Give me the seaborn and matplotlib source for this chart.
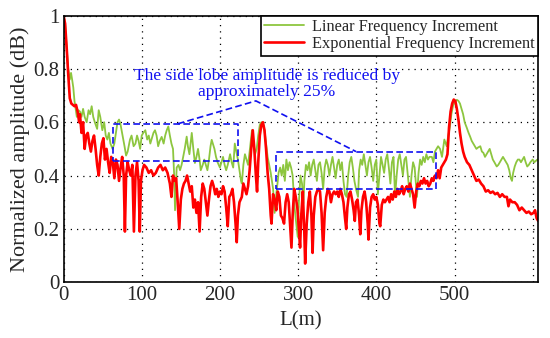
import matplotlib
matplotlib.use('Agg')
import matplotlib.pyplot as plt
import matplotlib.ticker as mticker
import seaborn as sns
import pandas as pd

sns.set_style("white")
plt.rcParams['font.family'] = ['Liberation Serif', 'DejaVu Serif']

# Exponential frequency increment (red)
exp_x = [0, 2, 4, 6, 8, 10, 12, 14, 16, 18, 20, 21, 23, 25, 27, 29, 31, 33, 35, 37, 39, 41, 43, 45, 47, 49,
         51, 53, 55, 57, 59, 61, 63, 65, 67, 69, 71, 73, 75, 77, 78.5, 80, 82, 84, 86, 88, 90, 92, 94, 96,
         97.5, 99, 101, 103, 106, 109, 112, 115, 118, 121, 124, 127, 130, 133, 136, 138, 140, 142, 144, 146,
         148, 150, 152, 154, 156, 158, 160, 162, 164, 166, 168, 170, 172, 174, 176, 178, 180, 182, 184, 186,
         188, 190, 192, 194, 196, 198, 200, 202, 204, 206, 208, 210, 212, 214, 216, 218, 220, 221.5, 223, 225,
         228, 230, 232, 234, 236, 238, 240, 242, 244, 246, 247.5, 249, 251, 253, 255, 257, 259, 261, 263, 265,
         266, 268, 270, 272, 274, 276, 278, 280, 282, 284, 286, 288, 290, 291.5, 293, 295, 297, 299, 301, 302.5,
         304, 306, 308, 309, 311, 313, 315, 317, 318.5, 320, 322, 324, 326, 328, 330, 332, 334, 336, 338, 340,
         342, 344, 346, 348, 350, 352, 354, 356, 358, 360, 361.5, 363, 365, 367, 369, 371, 372.5, 374, 376, 378,
         379.5, 381, 383, 385, 387, 389, 390, 392, 394, 396, 398, 400, 402, 404, 405, 407, 409, 411, 413, 415,
         417, 419, 421, 423, 425, 427, 429, 431, 433, 435, 437, 439, 441, 443, 445, 447, 449, 451, 453, 455,
         457, 459, 461, 463, 465, 467, 469, 471, 473, 475, 477, 479, 481, 483, 485, 487, 489, 491, 493, 495,
         497, 499, 501, 503, 505, 507, 509, 511, 513, 516, 519, 522, 525, 528, 531, 534, 537, 540, 543, 546,
         549, 552, 555, 558, 561, 564, 567, 569, 571, 574, 577, 580, 583, 586, 589, 592, 595, 598, 601, 603,
         605, 607]
exp_y = [1.00, 0.97, 0.88, 0.78, 0.69, 0.67, 0.665, 0.66, 0.665, 0.64, 0.60, 0.63, 0.56, 0.60, 0.50, 0.55, 0.56,
         0.52, 0.49, 0.53, 0.55, 0.50, 0.44, 0.40, 0.47, 0.52, 0.54, 0.46, 0.50, 0.45, 0.41, 0.47, 0.45, 0.39,
         0.46, 0.44, 0.38, 0.43, 0.47, 0.40, 0.19, 0.40, 0.45, 0.42, 0.40, 0.44, 0.19, 0.40, 0.45, 0.38, 0.19,
         0.38, 0.42, 0.44, 0.43, 0.41, 0.42, 0.40, 0.41, 0.43, 0.44, 0.42, 0.43, 0.41, 0.37, 0.32, 0.40, 0.38,
         0.39, 0.30, 0.20, 0.31, 0.35, 0.37, 0.38, 0.40, 0.37, 0.34, 0.36, 0.28, 0.31, 0.26, 0.30, 0.19, 0.32,
         0.37, 0.35, 0.30, 0.25, 0.31, 0.36, 0.38, 0.36, 0.33, 0.35, 0.32, 0.34, 0.33, 0.36, 0.34, 0.28, 0.21,
         0.32, 0.33, 0.35, 0.30, 0.22, 0.15, 0.25, 0.30, 0.32, 0.37, 0.35, 0.33, 0.36, 0.42, 0.50, 0.57, 0.50,
         0.40, 0.34, 0.45, 0.55, 0.59, 0.60, 0.57, 0.50, 0.41, 0.35, 0.25, 0.22, 0.33, 0.31, 0.27, 0.34, 0.32,
         0.25, 0.24, 0.22, 0.30, 0.33, 0.30, 0.20, 0.13, 0.25, 0.35, 0.32, 0.28, 0.20, 0.13, 0.25, 0.34, 0.18,
         0.07, 0.22, 0.30, 0.34, 0.25, 0.11, 0.25, 0.32, 0.34, 0.35, 0.34, 0.26, 0.12, 0.26, 0.32, 0.35, 0.34,
         0.30, 0.33, 0.34, 0.33, 0.34, 0.32, 0.35, 0.33, 0.30, 0.24, 0.20, 0.28, 0.33, 0.34, 0.31, 0.27, 0.23,
         0.30, 0.31, 0.25, 0.18, 0.27, 0.32, 0.34, 0.30, 0.22, 0.16, 0.28, 0.32, 0.33, 0.31, 0.32, 0.29, 0.22,
         0.21, 0.29, 0.31, 0.30, 0.31, 0.32, 0.30, 0.33, 0.31, 0.34, 0.32, 0.35, 0.33, 0.34, 0.36, 0.33, 0.35,
         0.36, 0.34, 0.37, 0.35, 0.33, 0.28, 0.34, 0.37, 0.36, 0.38, 0.37, 0.39, 0.37, 0.38, 0.36, 0.37, 0.39,
         0.38, 0.40, 0.39, 0.42, 0.39, 0.43, 0.44, 0.45, 0.46, 0.48, 0.58, 0.64, 0.67, 0.685, 0.68, 0.65, 0.61,
         0.56, 0.52, 0.49, 0.47, 0.45, 0.44, 0.42, 0.40, 0.38, 0.385, 0.37, 0.36, 0.34, 0.345, 0.335, 0.34, 0.33,
         0.335, 0.32, 0.33, 0.32, 0.32, 0.285, 0.31, 0.30, 0.30, 0.29, 0.27, 0.28, 0.27, 0.26, 0.265, 0.255,
         0.26, 0.27, 0.24, 0.23]

# Linear frequency increment (green)
lin_x = [0, 2, 4, 6, 8, 9.6, 11, 12.5, 14, 15, 17, 19, 21, 23, 25, 27, 29.6, 32, 34, 36, 38, 40, 43, 45, 47,
         49.6, 52, 54, 56, 58, 60, 62.7, 65, 67, 69, 71, 73, 75.5, 78, 80, 82, 85, 87, 89.6, 92, 94, 96, 98,
         100, 102, 104.6, 107, 109, 111, 113, 115, 117, 119, 121, 123, 125.5, 128, 130, 132, 134, 136, 138, 140,
         141.5, 142.6, 144, 144.7, 147, 149, 151, 153, 155, 157.5, 159, 161, 162.5, 164, 166, 168, 170, 172,
         174, 175.5, 178, 180, 182, 184, 186, 188, 189.5, 191, 193, 195, 197, 200, 202, 204, 206, 208, 210,
         213, 215, 217, 219, 221, 223, 225, 227, 228, 230, 232, 234, 236, 238, 241, 243, 245, 247, 249, 251,
         253, 255, 257, 259, 261, 263, 265, 267, 268, 270, 272, 274, 275, 277, 279, 281, 283, 285, 287, 289,
         291, 293, 295, 296.5, 298, 299.5, 301, 303, 305, 306.7, 308, 310, 312, 314, 316, 318, 320, 322, 324,
         326, 328, 330, 332, 334, 336, 338, 340, 342, 344, 346, 348, 350, 352, 354, 356, 358, 360, 362, 364,
         366, 368, 370, 372, 374, 376.6, 378, 380, 382, 384, 386, 388, 390, 392, 394, 396, 398, 400, 402, 404,
         406, 408, 410, 412, 414, 416, 418, 420, 422, 424, 426, 428, 430, 432, 434, 436, 438, 440, 443, 445,
         447, 449, 452, 454, 456, 458, 460, 462, 464, 466, 468, 471, 473, 475, 477, 479, 481.5, 484, 487, 490,
         492, 494, 496, 498, 500, 503, 505, 507, 509, 511, 513, 515.6, 518, 520, 522, 524, 526, 528, 530, 533,
         535, 537, 539, 541, 543, 545, 547, 549, 551, 554, 556, 558, 560, 562, 564, 566, 568, 570, 572, 573.5,
         575, 577, 579, 581, 583, 585, 587, 589, 591, 593, 595, 597, 600, 602, 604, 606, 608]
lin_y = [1.00, 0.97, 0.88, 0.80, 0.76, 0.785, 0.76, 0.73, 0.68, 0.66, 0.62, 0.645, 0.64, 0.62, 0.65, 0.62, 0.60,
         0.645, 0.63, 0.66, 0.62, 0.60, 0.575, 0.645, 0.62, 0.57, 0.60, 0.55, 0.535, 0.56, 0.52, 0.50, 0.52,
         0.56, 0.60, 0.61, 0.59, 0.55, 0.51, 0.475, 0.49, 0.535, 0.55, 0.51, 0.52, 0.55, 0.53, 0.50, 0.55, 0.56,
         0.57, 0.535, 0.55, 0.52, 0.54, 0.56, 0.57, 0.55, 0.51, 0.53, 0.545, 0.52, 0.55, 0.57, 0.584, 0.55, 0.52,
         0.50, 0.40, 0.27, 0.38, 0.43, 0.44, 0.42, 0.44, 0.47, 0.50, 0.546, 0.51, 0.48, 0.52, 0.56, 0.50, 0.447,
         0.47, 0.50, 0.46, 0.42, 0.44, 0.46, 0.44, 0.42, 0.46, 0.51, 0.534, 0.52, 0.50, 0.47, 0.45, 0.43, 0.45,
         0.47, 0.44, 0.42, 0.44, 0.48, 0.45, 0.43, 0.52, 0.49, 0.46, 0.42, 0.38, 0.37, 0.44, 0.48, 0.46, 0.44,
         0.49, 0.57, 0.52, 0.48, 0.50, 0.55, 0.59, 0.60, 0.595, 0.57, 0.52, 0.47, 0.44, 0.41, 0.37, 0.35, 0.26,
         0.33, 0.38, 0.41, 0.43, 0.40, 0.44, 0.38, 0.46, 0.42, 0.45, 0.43, 0.40, 0.30, 0.25, 0.21, 0.17, 0.30,
         0.40, 0.37, 0.296, 0.38, 0.44, 0.42, 0.45, 0.40, 0.44, 0.46, 0.42, 0.38, 0.44, 0.45, 0.41, 0.35, 0.43,
         0.46, 0.44, 0.40, 0.44, 0.47, 0.43, 0.39, 0.44, 0.46, 0.42, 0.45, 0.38, 0.33, 0.32, 0.40, 0.45, 0.47,
         0.43, 0.38, 0.35, 0.32, 0.42, 0.46, 0.44, 0.48, 0.44, 0.40, 0.45, 0.47, 0.43, 0.38, 0.44, 0.46, 0.33,
         0.40, 0.47, 0.44, 0.41, 0.46, 0.48, 0.43, 0.37, 0.45, 0.47, 0.32, 0.40, 0.46, 0.48, 0.44, 0.40, 0.46,
         0.47, 0.41, 0.32, 0.40, 0.45, 0.43, 0.32, 0.41, 0.46, 0.44, 0.47, 0.45, 0.48, 0.46, 0.47, 0.47, 0.45,
         0.49, 0.50, 0.51, 0.50, 0.47, 0.535, 0.51, 0.55, 0.58, 0.63, 0.66, 0.675, 0.684, 0.68, 0.67, 0.65, 0.63,
         0.60, 0.58, 0.56, 0.546, 0.53, 0.52, 0.51, 0.50, 0.505, 0.51, 0.49, 0.485, 0.47, 0.48, 0.49, 0.50, 0.48,
         0.46, 0.45, 0.434, 0.44, 0.45, 0.46, 0.47, 0.46, 0.45, 0.44, 0.42, 0.39, 0.38, 0.41, 0.434, 0.45, 0.46,
         0.46, 0.45, 0.46, 0.47, 0.45, 0.434, 0.44, 0.45, 0.46, 0.45, 0.455, 0.46, 0.46]

# annotation boxes (x0, x1, y0, y1) and the pointer line
box_left = [63, 223, 0.455, 0.594]
box_right = [272, 476, 0.35, 0.49]
pointer_x = [146, 246, 374]
pointer_y = [0.594, 0.68, 0.49]

fig = plt.figure(figsize=(5.5, 3.38), dpi=100)
ax = fig.add_axes([0.1155, 0.165, 0.863, 0.789])

lin_df = pd.DataFrame({'x': lin_x, 'y': lin_y})
exp_df = pd.DataFrame({'x': exp_x, 'y': exp_y})
sns.lineplot(data=lin_df, x='x', y='y', color='#8DC63F', linewidth=1.3, estimator=None,
             label='Linear Frequency Increment', ax=ax)
sns.lineplot(data=exp_df, x='x', y='y', color='#FF0000', linewidth=1.9, estimator=None,
             label='Exponential Frequency Increment', ax=ax)

blue = '#1010F0'
for x0, x1, y0, y1 in [box_left, box_right]:
    ax.plot([x0, x1, x1, x0, x0], [y0, y0, y1, y1, y0], color=blue, linestyle='--',
            dashes=(4, 2), linewidth=1.2)
ax.plot(pointer_x, pointer_y, color=blue, linestyle='--', dashes=(4, 2), linewidth=1.2)
ax.text(260, 0.745, 'The side lobe amplitude is reduced by\napproximately 25%', color=blue,
        fontsize=12.6, ha='center', va='center', linespacing=1.0)

ax.set_xlim(0, 607)
ax.set_ylim(0, 1)
ax.set_xticks([0, 100, 200, 300, 400, 500, 600])
ax.set_xticklabels(['0', '100', '200', '300', '400', '500', ''])
ax.set_yticks([0, 0.2, 0.4, 0.6, 0.8, 1.0])
ax.yaxis.set_major_formatter(mticker.FuncFormatter(lambda v, p: f'{v:g}'))
ax.grid(True, color='black', linestyle=(0, (1, 4)), linewidth=0.9)
ax.tick_params(direction='in', length=4, width=1, labelsize=15, pad=3)
for sp in ax.spines.values():
    sp.set_color('black')
    sp.set_linewidth(1.2)

ax.set_xlabel('L(m)', fontsize=15, labelpad=-3)
ax.xaxis.set_label_coords(0.5, -0.11)
ax.set_ylabel('Normalized amplitude (dB)', fontsize=16, labelpad=2)

leg = ax.legend(loc='upper right', fontsize=11.8, frameon=True, fancybox=False, borderaxespad=0,
                handlelength=2.4, labelspacing=0.05, borderpad=0.22, handletextpad=0.5)
leg.get_frame().set_edgecolor('black')
leg.get_frame().set_linewidth(1.2)
leg.get_frame().set_alpha(1)

fig.savefig('out.png', dpi=100)
